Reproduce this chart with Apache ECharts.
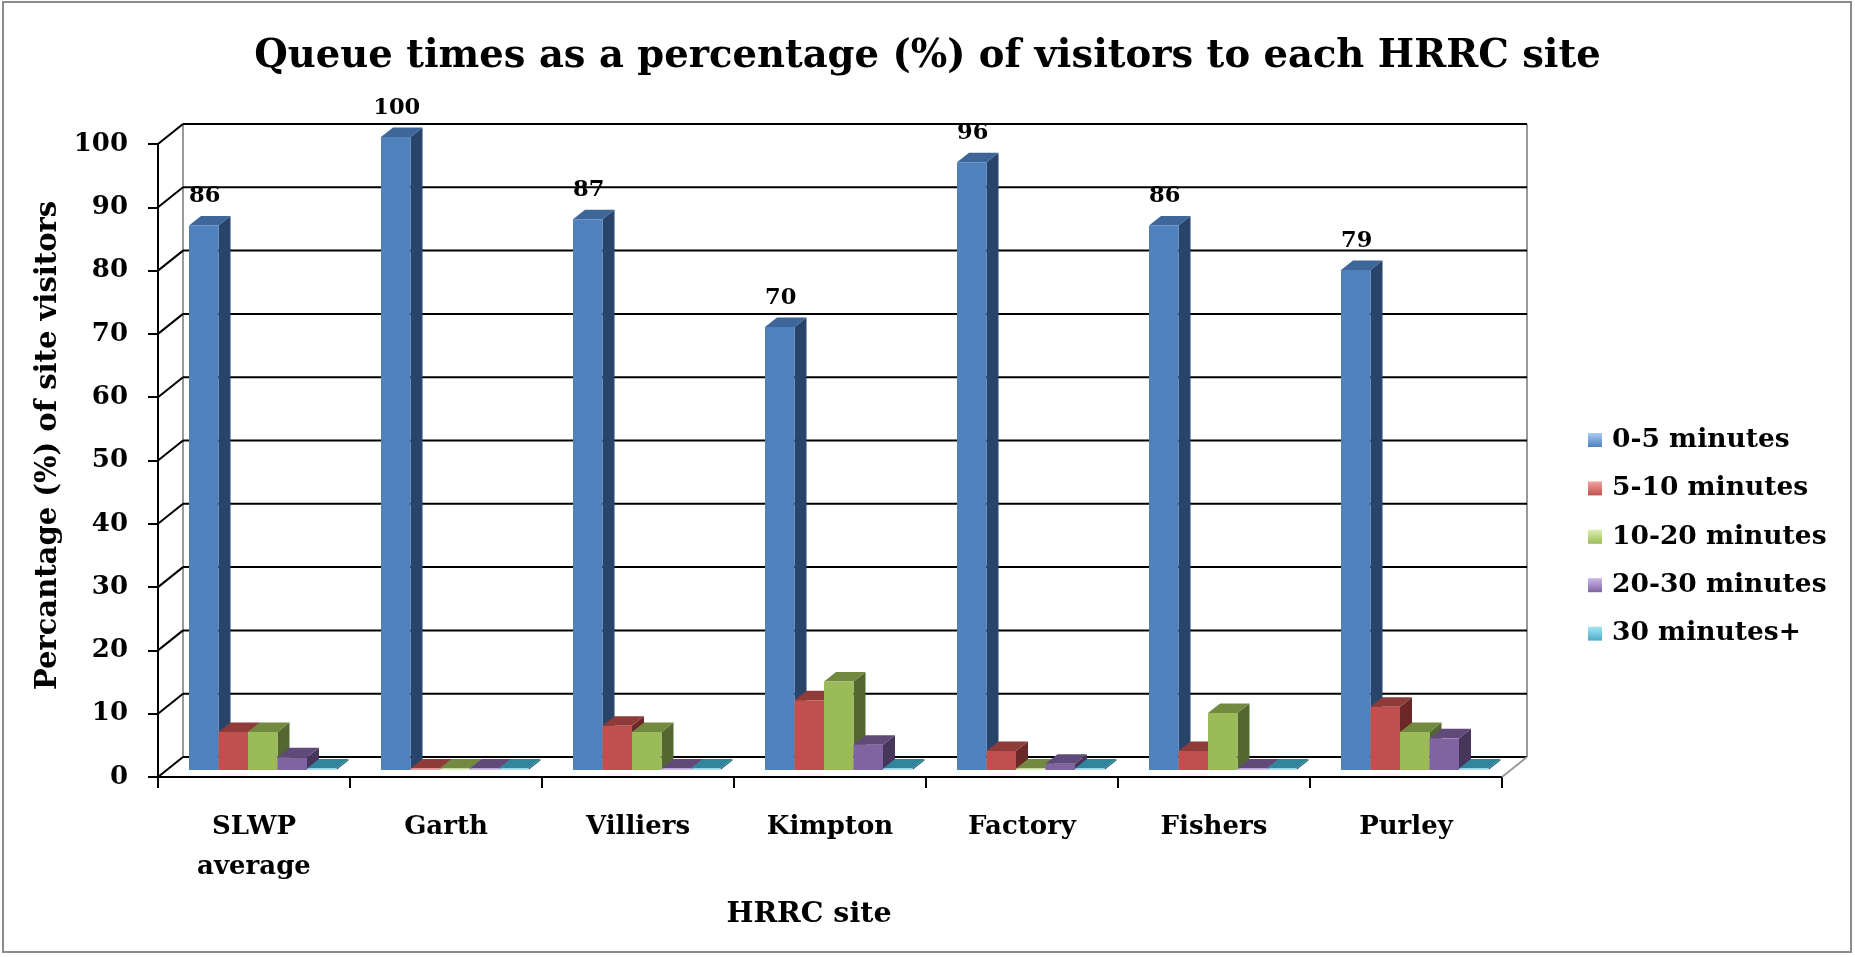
<!DOCTYPE html>
<html><head><meta charset="utf-8">
<script src="https://cdn.jsdelivr.net/npm/echarts@6/dist/echarts.min.js"></script>
<style>html,body{margin:0;padding:0;background:#fff}#c{width:1855px;height:957px}</style>
</head><body><div id="c"></div>
<script>
// ---- data ----
const categories = ['SLWP\naverage', 'Garth', 'Villiers', 'Kimpton', 'Factory', 'Fishers', 'Purley'];
const seriesNames = ['0-5 minutes', '5-10 minutes', '10-20 minutes', '20-30 minutes', '30 minutes+'];
const q0_5   = [86, 100, 87, 70, 96, 86, 79];
const q5_10  = [6, 0, 7, 11, 3, 3, 10];
const q10_20 = [6, 0, 6, 14, 0, 9, 6];
const q20_30 = [2, 0, 0, 4, 1, 0, 5];
const q30p   = [0, 0, 0, 0, 0, 0, 0];
const yTicks = [0, 10, 20, 30, 40, 50, 60, 70, 80, 90, 100];

// ---- styling ----
const FONT = '"DejaVu Serif", serif';
const frontC = ['#4F81BD', '#C0504D', '#9BBB59', '#8064A2', '#4BACC6'];
const topC   = ['#3E6699', '#8E3B39', '#728A40', '#5F4A7A', '#31859C'];
const sideC  = ['#27446B', '#6B2826', '#536830', '#45365A', '#276A7C'];
const lightC = ['#A9CBF5', '#F5A3A1', '#DDF0B0', '#CDB8EA', '#A6E6F7'];
const WALL_DX = 25, WALL_DY = -20;
const FRONT_DX = 8.75, FRONT_DY = -7;
const DEP_DX = 12, DEP_DY = -9.5;
const BAR_FRAC = 29.5 / 192;

const allSeries = [q0_5, q5_10, q10_20, q20_30, q30p];

function barRender(si) {
  return function (params, api) {
    const cat = api.value(0), v = api.value(1);
    const base = api.coord([cat, 0]);
    const top = api.coord([cat, v]);
    const cw = api.size([1, 0])[0];
    const bw = cw * BAR_FRAC;
    const x0 = base[0] - 2.5 * bw + si * bw + FRONT_DX;
    const yb = base[1] + FRONT_DY;
    let yt = top[1] + FRONT_DY;
    const children = [];
    const h = Math.max(yb - yt, 1.5);
    yt = yb - h;
    children.push({type: 'polygon', shape: {points: [[x0 + bw, yt], [x0 + bw, yb], [x0 + bw + DEP_DX, yb + DEP_DY], [x0 + bw + DEP_DX, yt + DEP_DY]]}, style: {fill: sideC[si]}});
    children.push({type: 'polygon', shape: {points: [[x0, yt], [x0 + bw, yt], [x0 + bw + DEP_DX, yt + DEP_DY], [x0 + DEP_DX, yt + DEP_DY]]}, style: {fill: topC[si]}});
    children.push({type: 'rect', shape: {x: x0, y: yt, width: bw, height: h}, style: {fill: v > 0 ? frontC[si] : lightC[si]}});
    if (si === 0) {
      children.push({type: 'text', style: {text: String(v), x: x0 + bw / 2 + 1, y: yt - 29, align: 'center', verticalAlign: 'middle', font: 'bold 22.5px ' + FONT, fill: '#000'}});
    }
    return {type: 'group', children};
  };
}

function frameRender(params, api) {
  const v = api.value(1);
  const c = api.coord([0, v]);
  const cw = api.size([1, 0])[0];
  const xl = c[0] - cw / 2, xr = xl + cw * categories.length;
  const y = c[1];
  const children = [
    {type: 'line', shape: {x1: xl, y1: y, x2: xl + WALL_DX, y2: y + WALL_DY}, style: {stroke: '#000', lineWidth: 2}},
    {type: 'line', shape: {x1: xl + WALL_DX, y1: y + WALL_DY, x2: xr + WALL_DX, y2: y + WALL_DY}, style: {stroke: '#000', lineWidth: 2}}
  ];
  if (v === 0) {
    const yTop = api.coord([0, 100])[1];
    children.unshift({type: 'line', shape: {x1: xl + WALL_DX, y1: y + WALL_DY, x2: xl + WALL_DX, y2: yTop + WALL_DY}, style: {stroke: '#9a9a9a', lineWidth: 2}});
    children.unshift({type: 'line', shape: {x1: xr + WALL_DX, y1: y + WALL_DY, x2: xr + WALL_DX, y2: yTop + WALL_DY}, style: {stroke: '#9a9a9a', lineWidth: 2}});
    children.push({type: 'line', shape: {x1: xr, y1: y, x2: xr + WALL_DX, y2: y + WALL_DY}, style: {stroke: '#9a9a9a', lineWidth: 2}});
  }
  return {type: 'group', children};
}

const series = [{
  type: 'custom', name: 'frame', z: 1, silent: true, clip: false,
  renderItem: frameRender,
  encode: {x: 0, y: 1},
  data: yTicks.map(t => [0, t])
}];
allSeries.forEach((arr, si) => {
  series.push({
    type: 'custom', name: seriesNames[si], z: 3, clip: false,
    renderItem: barRender(si),
    encode: {x: 0, y: 1},
    itemStyle: {color: new echarts.graphic.LinearGradient(0, 0, 0, 1, [{offset: 0, color: lightC[si]}, {offset: 1, color: frontC[si]}])},
    data: arr.map((v, i) => [i, v])
  });
});

const chart = echarts.init(document.getElementById('c'));
chart.setOption({
  animation: false,
  backgroundColor: '#fff',
  title: {
    text: 'Queue times as a percentage (%) of visitors to each HRRC site',
    left: 'center', top: 32,
    textStyle: {fontFamily: FONT, fontWeight: 'bold', fontSize: 38.5, color: '#000'}
  },
  graphic: [{type: 'rect', shape: {x: 3, y: 2, width: 1848, height: 950}, style: {fill: 'none', stroke: '#8c8c8c', lineWidth: 2}, silent: true}],
  legend: {
    orient: 'vertical', left: 1583, top: 419,
    itemWidth: 14, itemHeight: 14, itemGap: 16.4, icon: 'rect',
    selectedMode: false,
    data: seriesNames,
    textStyle: {fontFamily: FONT, fontWeight: 'bold', fontSize: 26.5, color: '#000', lineHeight: 32, padding: [0, 0, 0, 5]}
  },
  grid: {left: 158, right: 353, top: 144, bottom: 180},
  xAxis: {
    type: 'category', data: categories,
    name: 'HRRC site', nameLocation: 'middle', nameGap: 123,
    nameTextStyle: {fontFamily: FONT, fontWeight: 'bold', fontSize: 28.5, color: '#000', padding: [0, 42, 0, 0]},
    axisLine: {lineStyle: {color: '#000', width: 2}},
    axisTick: {show: true, length: 11, lineStyle: {color: '#000', width: 2}},
    axisLabel: {fontFamily: FONT, fontWeight: 'bold', fontSize: 26, color: '#000', margin: 30, lineHeight: 40, interval: 0},
    splitLine: {show: false}
  },
  yAxis: {
    type: 'value', min: 0, max: 100, interval: 10,
    name: 'Percantage (%) of site visitors', nameLocation: 'middle', nameGap: 88, nameRotate: 90,
    nameTextStyle: {fontFamily: FONT, fontWeight: 'bold', fontSize: 29, color: '#000', padding: [0, 0, 0, 30]},
    axisLine: {show: true, lineStyle: {color: '#000', width: 2}},
    axisTick: {show: true, length: 10, lineStyle: {color: '#000', width: 2}},
    axisLabel: {fontFamily: FONT, fontWeight: 'bold', fontSize: 26, color: '#000', margin: 30},
    splitLine: {show: false}
  },
  series
});
</script>
</body></html>
